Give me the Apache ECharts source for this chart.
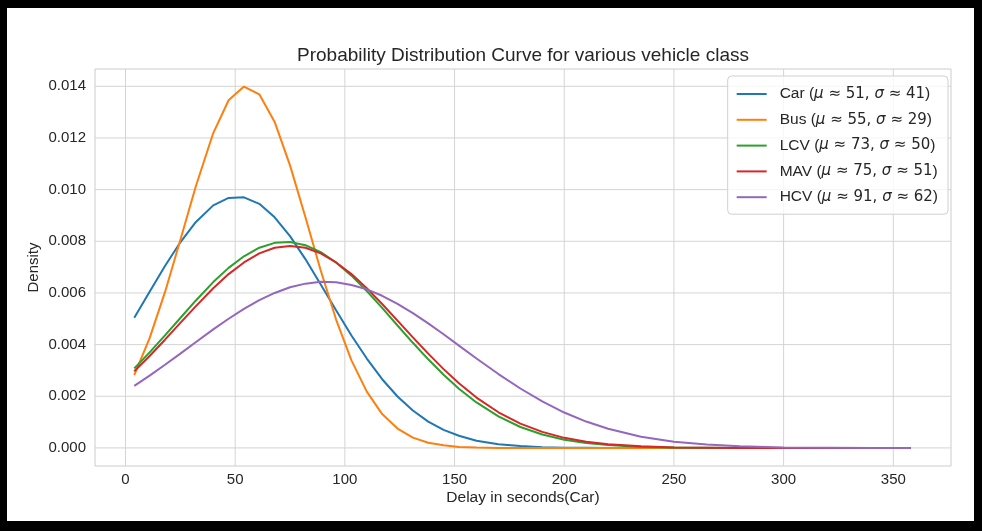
<!DOCTYPE html>
<html><head><meta charset="utf-8">
<script src="https://cdn.jsdelivr.net/npm/echarts@6/dist/echarts.min.js"></script>
<style>
html,body{margin:0;padding:0;background:#000;width:982px;height:531px;overflow:hidden}
#c{position:absolute;left:7px;top:8px;width:967px;height:513px;background:#fff}
</style>
</head><body><div id="c"></div>
<script>
// Delay (seconds) sample points
const xs = [4, 11, 18, 25, 32, 40, 47, 54, 61, 68, 75, 82, 89, 96, 103, 110, 117, 124, 131, 138, 145, 152, 160, 170, 180, 190, 200, 210, 220, 235, 250, 265, 280, 300, 320, 340, 358];

const carVals = [0.00504, 0.00605, 0.00704, 0.00796, 0.00874, 0.00939, 0.00968, 0.00970, 0.00945, 0.00893, 0.00820, 0.00731, 0.00633, 0.00533, 0.00435, 0.00346, 0.00266, 0.00199, 0.00145, 0.00102, 0.00070, 0.00047, 0.00028, 0.00014, 0.00007, 0.00003, 0.00001, 0.00001, 0, 0, 0, 0, 0, 0, 0, 0, 0];
const busVals = [0.00282, 0.00425, 0.00603, 0.00805, 0.01011, 0.01219, 0.01346, 0.01399, 0.01369, 0.01262, 0.01094, 0.00894, 0.00687, 0.00497, 0.00339, 0.00218, 0.00131, 0.00075, 0.00040, 0.00020, 0.00010, 0.00004, 0.00002, 0, 0, 0, 0, 0, 0, 0, 0, 0, 0, 0, 0, 0, 0];
const lcvVals = [0.00308, 0.00370, 0.00436, 0.00503, 0.00570, 0.00642, 0.00697, 0.00742, 0.00775, 0.00794, 0.00797, 0.00785, 0.00758, 0.00718, 0.00667, 0.00607, 0.00542, 0.00474, 0.00407, 0.00343, 0.00283, 0.00229, 0.00176, 0.00122, 0.00081, 0.00052, 0.00032, 0.00019, 0.00011, 0.00004, 0.00002, 0.00001, 0, 0, 0, 0, 0];
const mavVals = [0.00297, 0.00356, 0.00419, 0.00484, 0.00548, 0.00618, 0.00673, 0.00718, 0.00753, 0.00775, 0.00782, 0.00775, 0.00753, 0.00718, 0.00673, 0.00618, 0.00557, 0.00493, 0.00428, 0.00365, 0.00305, 0.00250, 0.00195, 0.00138, 0.00094, 0.00062, 0.00039, 0.00024, 0.00014, 0.00006, 0.00002, 0.00001, 0, 0, 0, 0, 0];
const hcvVals = [0.00240, 0.00280, 0.00322, 0.00365, 0.00409, 0.00459, 0.00500, 0.00538, 0.00572, 0.00600, 0.00622, 0.00636, 0.00643, 0.00641, 0.00631, 0.00614, 0.00589, 0.00558, 0.00522, 0.00482, 0.00440, 0.00396, 0.00346, 0.00286, 0.00230, 0.00180, 0.00137, 0.00102, 0.00074, 0.00043, 0.00024, 0.00013, 0.00006, 0.00002, 0.00001, 0, 0];

const classNames = ['Car', 'Bus', 'LCV', 'MAV', 'HCV'];
const muVals = [51, 55, 73, 75, 91];
const sigmaVals = [41, 29, 50, 51, 62];
const colors = ['#1f77b4', '#ff7f0e', '#2ca02c', '#d62728', '#9467bd'];

const xTicks = [0, 50, 100, 150, 200, 250, 300, 350];
const yTicks = [0, 0.002, 0.004, 0.006, 0.008, 0.010, 0.012, 0.014];

const X_MIN = -13.9, X_MAX = 376.3, Y_MIN = -0.0007, Y_MAX = 0.01467;

const allVals = [carVals, busVals, lcvVals, mavVals, hcvVals];
const FONT = '"Liberation Sans", Arial, sans-serif';
const TXT = '#262626';
const GRID_C = '#d4d4d4';

const series = [];
// grid lines drawn through the axes' scales
xTicks.forEach(v => series.push({
  type: 'line', silent: true, symbol: 'none', z: 1, animation: false,
  lineStyle: { color: GRID_C, width: 1 }, emphasis: { disabled: true },
  data: [[v, Y_MIN], [v, Y_MAX]]
}));
yTicks.forEach(v => series.push({
  type: 'line', silent: true, symbol: 'none', z: 1, animation: false,
  lineStyle: { color: GRID_C, width: 1 }, emphasis: { disabled: true },
  data: [[X_MIN, v], [X_MAX, v]]
}));

classNames.forEach((n, k) => series.push({
  name: n,
  type: 'line',
  data: xs.map((x, i) => [x, allVals[k][i]]),
  symbol: 'none',
  smooth: false,
  z: 3,
  lineStyle: { width: 2, color: colors[k] },
  itemStyle: { color: colors[k] },
  animation: false
}));

const chart = echarts.init(document.getElementById('c'), null, { renderer: 'canvas' });
chart.setOption({
  backgroundColor: '#fff',
  animation: false,
  title: {
    text: 'Probability Distribution Curve for various vehicle class',
    left: 516, top: 38, padding: 0, textAlign: 'center',
    textStyle: { fontFamily: FONT, fontSize: 19, fontWeight: 'normal', color: TXT }
  },
  grid: { left: 88, right: 23, top: 61, bottom: 55, show: true, borderColor: '#cccccc', borderWidth: 1, backgroundColor: 'transparent', containLabel: false },
  legend: {
    data: classNames,
    orient: 'vertical',
    right: 26, top: 68,
    padding: [10, 10, 9, 9],
    icon: 'rect',
    itemWidth: 30, itemHeight: 2, itemGap: 9.8,
    backgroundColor: 'rgba(255,255,255,0.8)',
    borderColor: '#d0d0d0', borderWidth: 1, borderRadius: 4,
    formatter: function (name) {
      const k = classNames.indexOf(name);
      return '{t|' + name + ' (}{m|μ}{n| ≈ ' + muVals[k] + ', }{m|σ}{n| ≈ ' + sigmaVals[k] + '}{t|)}';
    },
    textStyle: {
      color: TXT, fontSize: 15, padding: [0, 0, 0, 8],
      rich: {
        t: { fontFamily: FONT, fontSize: 15.5, color: TXT, lineHeight: 16 },
        m: { fontFamily: '"DejaVu Sans"', fontStyle: 'italic', fontSize: 15, color: TXT, lineHeight: 16 },
        n: { fontFamily: '"DejaVu Sans"', fontSize: 15, color: TXT, lineHeight: 16 }
      }
    }
  },
  xAxis: {
    type: 'value', min: X_MIN, max: X_MAX,
    name: 'Delay in seconds(Car)', nameLocation: 'middle', nameGap: 24, nameMoveOverlap: false,
    nameTextStyle: { fontFamily: FONT, fontSize: 15.5, color: TXT },
    axisLine: { show: false }, axisTick: { show: false },
    splitLine: { show: false },
    axisLabel: { customValues: xTicks, fontFamily: FONT, fontSize: 15, color: TXT, margin: 6, formatter: v => String(v) }
  },
  yAxis: {
    type: 'value', min: Y_MIN, max: Y_MAX,
    name: 'Density', nameLocation: 'middle', nameGap: 54, nameRotate: 90, nameMoveOverlap: false,
    nameTextStyle: { fontFamily: FONT, fontSize: 15, color: TXT },
    axisLine: { show: false }, axisTick: { show: false },
    splitLine: { show: false },
    axisLabel: { customValues: yTicks, fontFamily: FONT, fontSize: 15, color: TXT, margin: 9, formatter: v => v.toFixed(3) }
  },
  series: series
});
</script>
</body></html>
